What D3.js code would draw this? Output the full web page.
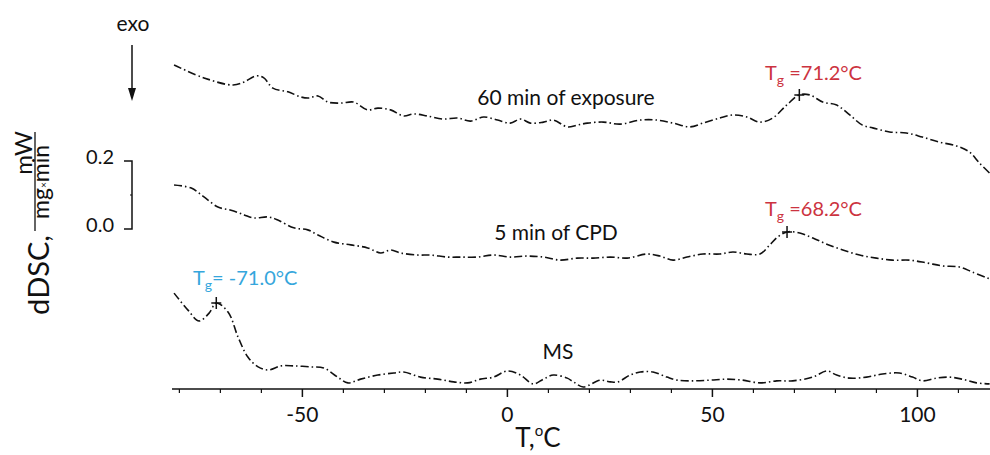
<!DOCTYPE html>
<html>
<head>
<meta charset="utf-8">
<script src="https://cdn.jsdelivr.net/npm/d3@7"></script>
<style>
  body { margin: 0; background: #fff; }
  svg text { font-family: Lato, "Open Sans", sans-serif; }
</style>
</head>
<body>
<svg id="chart" width="990" height="455"></svg>
<script>
// temperature (°C) and dDSC (mW/(mg·min), curves shifted vertically for display)
const tExposure = [-81.3, -74.0, -66.9, -64.2, -61.3, -59.4, -57.2, -53.5, -50.4, -48.4, -46.2, -43.8, -40.6, -37.5, -34.1, -31.6,
  -28.5, -25.3, -22.9, -19.5, -15.6, -12.2, -9.0, -5.8, -2.4, 0.7, 3.2, 5.6, 8.8, 11.2, 14.6, 17.0,
  19.5, 23.4, 27.5, 32.4, 36.5, 40.4, 44.5, 47.7, 51.8, 55.0, 58.4, 61.6, 64.7, 68.1, 71.2, 73.7,
  76.9, 80.3, 83.5, 86.6, 89.1, 93.2, 97.3, 101.2, 105.4, 109.5, 112.7, 115.1, 117.6];
const dscExposure = [0.953, 0.915, 0.894, 0.903, 0.921, 0.915, 0.885, 0.874, 0.859, 0.856, 0.862, 0.844, 0.841, 0.844, 0.821, 0.826,
  0.821, 0.803, 0.809, 0.803, 0.794, 0.797, 0.788, 0.800, 0.791, 0.782, 0.794, 0.782, 0.785, 0.791, 0.771, 0.776,
  0.782, 0.785, 0.779, 0.791, 0.791, 0.782, 0.771, 0.782, 0.797, 0.806, 0.800, 0.785, 0.797, 0.835, 0.865, 0.865,
  0.844, 0.835, 0.806, 0.776, 0.768, 0.756, 0.753, 0.741, 0.726, 0.715, 0.697, 0.665, 0.635];

const tCPD = [-81.3, -77.1, -74.0, -70.6, -67.4, -64.2, -61.8, -58.4, -56.0, -52.1, -48.7, -46.2, -42.3, -38.2, -34.1, -30.9,
  -28.5, -26.0, -21.9, -18.7, -14.6, -11.4, -7.3, -3.4, 0.7, 4.9, 8.8, 12.9, 17.0, 20.9, 25.1, 29.2,
  34.1, 37.2, 40.4, 43.8, 47.7, 51.8, 55.0, 58.4, 61.6, 64.0, 65.9, 68.2, 71.3, 74.5, 77.9, 81.8,
  85.9, 90.0, 93.9, 98.1, 102.2, 106.1, 110.2, 113.4, 117.6];
const dscCPD = [0.600, 0.591, 0.565, 0.535, 0.526, 0.512, 0.503, 0.506, 0.497, 0.474, 0.468, 0.453, 0.432, 0.424, 0.415, 0.400,
  0.409, 0.400, 0.394, 0.394, 0.388, 0.388, 0.388, 0.394, 0.388, 0.391, 0.388, 0.379, 0.385, 0.385, 0.388, 0.385,
  0.397, 0.391, 0.379, 0.388, 0.397, 0.397, 0.403, 0.397, 0.397, 0.424, 0.447, 0.462, 0.459, 0.444, 0.426, 0.409,
  0.394, 0.385, 0.379, 0.379, 0.371, 0.362, 0.359, 0.344, 0.324];

const tMS = [-81.3, -77.9, -75.2, -72.7, -71.0, -68.1, -65.7, -63.3, -60.8, -58.4, -55.2, -52.1, -47.9, -44.8, -41.4, -38.9,
  -35.8, -31.6, -27.7, -25.3, -21.2, -17.0, -13.1, -9.7, -6.6, -3.4, 0.0, 3.2, 6.3, 8.8, 11.2, 14.6,
  16.1, 18.5, 22.6, 25.1, 27.0, 29.9, 32.4, 35.5, 38.9, 41.4, 45.3, 49.4, 53.5, 57.4, 61.6, 65.7,
  69.6, 74.5, 77.9, 80.3, 83.5, 87.6, 91.5, 95.6, 98.8, 101.2, 104.6, 107.8, 110.9, 114.4, 117.6];
const dscMS = [0.282, 0.232, 0.200, 0.224, 0.253, 0.226, 0.153, 0.094, 0.065, 0.056, 0.068, 0.068, 0.065, 0.062, 0.035, 0.018,
  0.029, 0.041, 0.047, 0.050, 0.035, 0.029, 0.021, 0.018, 0.029, 0.035, 0.053, 0.041, 0.015, 0.029, 0.041, 0.032,
  0.021, 0.006, 0.026, 0.021, 0.021, 0.041, 0.050, 0.050, 0.035, 0.026, 0.024, 0.026, 0.029, 0.026, 0.018, 0.024,
  0.024, 0.035, 0.053, 0.041, 0.032, 0.035, 0.044, 0.047, 0.035, 0.024, 0.032, 0.035, 0.029, 0.018, 0.015];

// glass transition points
const tgNames = ["60 min of exposure", "5 min of CPD", "MS"];
const tgTemps = [71.2, 68.2, -71.0];
const tgValues = [0.865, 0.462, 0.253];
const tgLabels = ["71.2°C", "68.2°C", "-71.0°C"];

const xTicks = [-50, 0, 50, 100];
const xMinorTicks = [-80, -70, -60, -40, -30, -20, -10, 10, 20, 30, 40, 60, 70, 80, 90, 110];
const scaleBarTicks = [0.0, 0.2];

const svg = d3.select("#chart");

const x = d3.scaleLinear().domain([-81.8, 117.7]).range([172, 990]);
const y = d3.scaleLinear().domain([0, 1.1]).range([389, 15]);

// curves
const series = [
  { t: tExposure, v: dscExposure },
  { t: tCPD, v: dscCPD },
  { t: tMS, v: dscMS }
];

const line = d3.line()
  .x(d => x(d[0]))
  .y(d => y(d[1]))
  .curve(d3.curveCatmullRom.alpha(0.5));

svg.append("g").selectAll("path")
  .data(series)
  .join("path")
  .attr("d", s => line(s.t.map((t, i) => [t, s.v[i]])))
  .attr("fill", "none")
  .attr("stroke", "#111")
  .attr("stroke-width", 1.6)
  .attr("stroke-dasharray", "8,3,1.5,3");

// x axis
const axisG = svg.append("g").attr("transform", "translate(0,389)");
axisG.append("line")
  .attr("x1", 172).attr("x2", 990)
  .attr("stroke", "#111").attr("stroke-width", 1.5);
axisG.selectAll(".minor")
  .data(xMinorTicks)
  .join("line")
  .attr("class", "minor")
  .attr("x1", d => x(d)).attr("x2", d => x(d))
  .attr("y1", 0).attr("y2", 4)
  .attr("stroke", "#111").attr("stroke-width", 1.2);
axisG.selectAll(".major")
  .data(xTicks)
  .join("line")
  .attr("class", "major")
  .attr("x1", d => x(d)).attr("x2", d => x(d))
  .attr("y1", 0).attr("y2", 8)
  .attr("stroke", "#111").attr("stroke-width", 1.5);
axisG.selectAll(".tlabel")
  .data(xTicks)
  .join("text")
  .attr("class", "tlabel")
  .attr("x", d => x(d))
  .attr("y", 33)
  .attr("text-anchor", "middle")
  .attr("font-size", 21)
  .attr("fill", "#111")
  .text(d => d);

const xTitle = svg.append("text")
  .attr("x", 538).attr("y", 447)
  .attr("text-anchor", "middle")
  .attr("font-size", 26)
  .attr("fill", "#111");
xTitle.append("tspan").text("T,");
xTitle.append("tspan").attr("font-size", 15).attr("dy", -11).text("o");
xTitle.append("tspan").attr("dy", 11).text("C");

// scale bar
const yBar = d3.scaleLinear().domain([0, 0.2]).range([229, 161]);
const barG = svg.append("g");
barG.append("path")
  .attr("d", `M124,${yBar(0.2)}H132V${yBar(0)}H124`)
  .attr("fill", "none").attr("stroke", "#111").attr("stroke-width", 1.5);
barG.append("line")
  .attr("x1", 130).attr("x2", 132)
  .attr("y1", yBar(0.1)).attr("y2", yBar(0.1))
  .attr("stroke", "#111").attr("stroke-width", 1.2);
barG.selectAll("text")
  .data(scaleBarTicks)
  .join("text")
  .attr("x", 114)
  .attr("y", d => yBar(d) + 3)
  .attr("text-anchor", "end")
  .attr("font-size", 20)
  .attr("fill", "#111")
  .text(d => d.toFixed(1));

// exo arrow
svg.append("text")
  .attr("x", 133).attr("y", 31)
  .attr("text-anchor", "middle")
  .attr("font-size", 21)
  .attr("fill", "#111")
  .text("exo");
svg.append("line")
  .attr("x1", 132).attr("x2", 132)
  .attr("y1", 45).attr("y2", 90)
  .attr("stroke", "#111").attr("stroke-width", 1.5);
svg.append("path")
  .attr("d", "M128,88L136,88L132,101Z")
  .attr("fill", "#111");

// y label
const yLab = svg.append("g");
yLab.append("text")
  .attr("transform", "translate(49,275) rotate(-90)")
  .attr("text-anchor", "middle")
  .attr("font-size", 29)
  .attr("fill", "#111")
  .text("dDSC,");
yLab.append("text")
  .attr("transform", "translate(32,153) rotate(-90)")
  .attr("text-anchor", "middle")
  .attr("font-size", 24)
  .attr("fill", "#111")
  .text("mW");
yLab.append("line")
  .attr("x1", 35).attr("x2", 35)
  .attr("y1", 132).attr("y2", 231)
  .attr("stroke", "#111").attr("stroke-width", 1.3);
const den = yLab.append("text")
  .attr("transform", "translate(49,182) rotate(-90)")
  .attr("text-anchor", "middle")
  .attr("font-size", 23)
  .attr("fill", "#111");
den.append("tspan").text("mg");
den.append("tspan").attr("font-size", 10).attr("dy", -2).text("×");
den.append("tspan").attr("dy", 2).text("min");

// curve names
const namePos = [[566, 105], [556, 240], [558, 359]];
svg.selectAll(".cname")
  .data(tgNames)
  .join("text")
  .attr("class", "cname")
  .attr("x", (d, i) => namePos[i][0])
  .attr("y", (d, i) => namePos[i][1])
  .attr("text-anchor", "middle")
  .attr("font-size", 21)
  .attr("fill", "#111")
  .text(d => d);

// Tg markers
svg.selectAll(".plus")
  .data(tgTemps)
  .join("path")
  .attr("class", "plus")
  .attr("d", (d, i) => {
    const px = x(d), py = y(tgValues[i]);
    return `M${px - 5},${py}H${px + 5}M${px},${py - 6}V${py + 6}`;
  })
  .attr("stroke", "#111").attr("stroke-width", 1.5);

// Tg labels
const tgColors = ["#cc3340", "#cc3340", "#35a6dc"];
const tgLabelPos = [[765, 80], [765, 216], [193, 285]];
tgLabels.forEach((lab, i) => {
  const t = svg.append("text")
    .attr("x", tgLabelPos[i][0])
    .attr("y", tgLabelPos[i][1])
    .attr("font-size", 20)
    .attr("fill", tgColors[i]);
  t.append("tspan").text("T");
  t.append("tspan").attr("font-size", 14).attr("dy", 5).text("g");
  t.append("tspan").attr("dy", -5).text(i < 2 ? " =" + lab : "= " + lab);
});
</script>
</body>
</html>
